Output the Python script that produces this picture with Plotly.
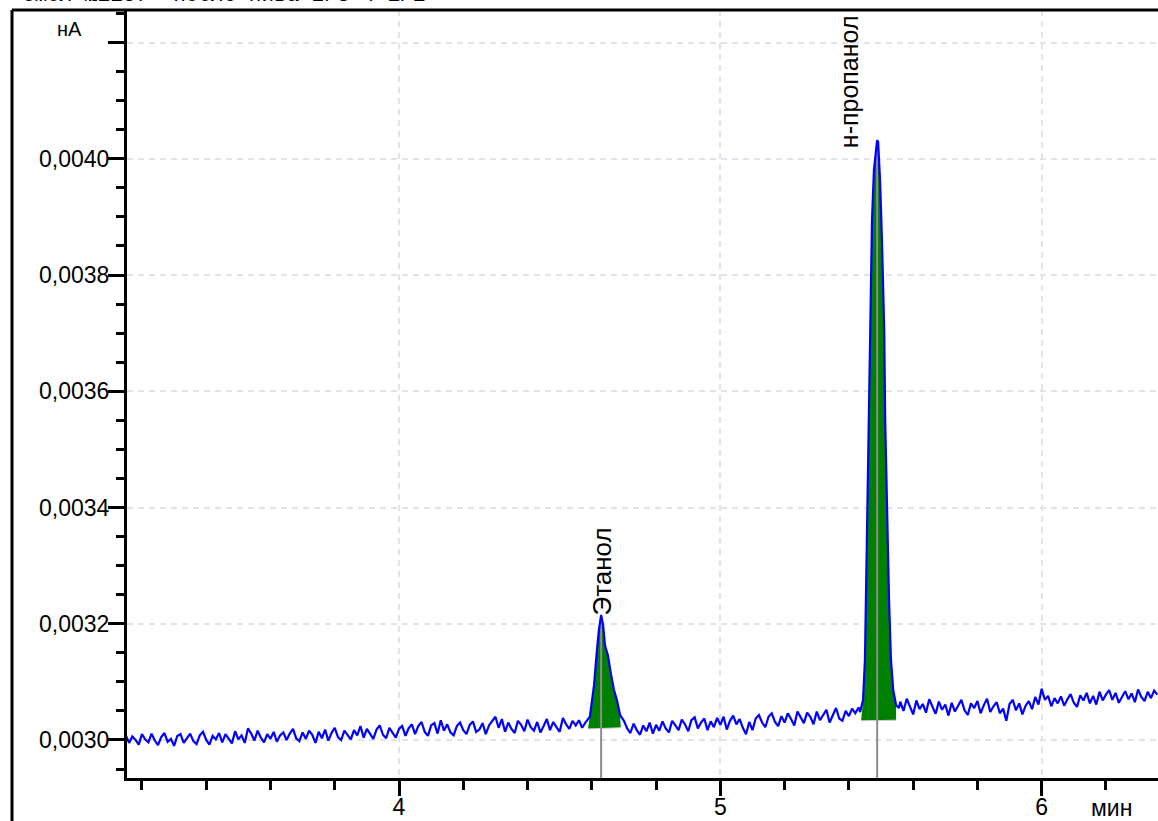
import numpy as np
import plotly.graph_objects as go

# ---------------- data (signal in fA, 1 fA = 1e-6 nA) ----------------
seg_a_start = 3.15
seg_a_fA = [
    3008, 2995, 3006, 3000, 2992, 3010, 3001, 2996, 3011, 2999,
    2991, 3005, 3012, 2997, 3002, 2990, 3007, 3010, 2995, 3004,
    3011, 2998, 2993, 3008, 3014, 3000, 2992, 3007, 3001, 3012,
    2996, 3010, 3003, 2994, 3015, 3001, 3008, 2995, 3020, 3011,
    2999, 3016, 3004, 2996, 3010, 3002, 3014, 2997, 3008, 3013,
    3000, 3011, 3019, 3003, 2998, 3013, 3002, 3016, 3009, 2995,
    3014, 3003, 3018, 2999, 3012, 3021, 3005, 3000, 3016, 3009,
    3001, 3017, 3008, 3024, 3004, 3019, 3010, 3002, 3018, 3025,
    3009, 3003, 3021, 3013, 3004, 3019, 3024, 3007, 3020, 3027,
    3010, 3024, 3031, 3014, 3007, 3025, 3029, 3011, 3034, 3016,
    3027, 3013, 3008, 3024, 3030, 3017, 3010, 3026, 3032, 3014,
    3018, 3029, 3010, 3025, 3033, 3040, 3021, 3036, 3014, 3030,
    3019, 3012, 3033, 3026, 3015, 3035, 3022, 3016, 3031, 3013,
    3024, 3036, 3017, 3031, 3022, 3014, 3038, 3027, 3019, 3033,
    3025, 3034, 3021, 3030,
]

ethanol_t = [4.594, 4.601, 4.607, 4.616, 4.622, 4.629, 4.635, 4.641, 4.650, 4.660, 4.669, 4.678, 4.688]
ethanol_fA = [3040, 3069, 3095, 3155, 3189, 3215, 3198, 3163, 3146, 3112, 3086, 3069, 3043]
ethanol_base_t = [4.588, 4.690]
ethanol_base_fA = [3019, 3021]
ethanol_rt = 4.629

seg_b_start = 4.70
seg_b_fA = [
    3033, 3020, 3012, 3028, 3017, 3009, 3025, 3015, 3030, 3011,
    3026, 3016, 3032, 3020, 3013, 3033, 3025, 3017, 3035, 3027,
    3015, 3034, 3039, 3020, 3030, 3037, 3017, 3032, 3022, 3038,
    3026, 3040, 3018, 3033, 3042, 3027, 3036, 3021, 3010, 3031,
    3017, 3037, 3043, 3030, 3022, 3040, 3046, 3031, 3024, 3041,
    3030, 3046, 3036, 3025, 3049, 3038, 3029, 3047, 3040, 3027,
    3049, 3034, 3042, 3052, 3030, 3044, 3055, 3037, 3033, 3050,
    3041, 3054, 3046, 3056,
]

propanol_t = [5.435, 5.444, 5.450, 5.453, 5.457, 5.460, 5.466, 5.472, 5.478, 5.485, 5.488,
              5.491, 5.497, 5.503, 5.510, 5.513, 5.519, 5.525, 5.531, 5.538, 5.547, 5.556]
propanol_fA = [3048, 3069, 3138, 3241, 3378, 3533, 3705, 3895, 3981, 4024, 4032,
               4029, 3963, 3860, 3705, 3550, 3378, 3241, 3138, 3086, 3060, 3055]
propanol_base_t = [5.438, 5.547]
propanol_base_fA = [3033, 3034]
propanol_rt = 5.488

seg_c_start = 5.56
seg_c_fA = [
    3066, 3050, 3071, 3056, 3044, 3068, 3053, 3062, 3047, 3070,
    3058, 3045, 3066, 3052, 3061, 3042, 3064, 3049, 3059, 3069,
    3051, 3043, 3063, 3055, 3067, 3046, 3060, 3071, 3048, 3058,
    3065, 3046, 3054, 3033, 3062, 3069, 3051, 3063, 3044, 3059,
    3067, 3053, 3074, 3061, 3088, 3069, 3076, 3058, 3072, 3063,
    3075, 3059, 3070, 3079, 3064, 3057, 3077, 3068, 3081, 3063,
    3076, 3061, 3083, 3068, 3078, 3086, 3069, 3081, 3064, 3075,
    3084, 3070, 3080, 3065, 3087, 3074, 3067, 3083, 3072, 3085,
    3078,
]

peak_names = ["Этанол", "н-пропанол"]
y_ticks = [0.0030, 0.0032, 0.0034, 0.0036, 0.0038, 0.0040, 0.0042]
y_ticktext = ["0,0030", "0,0032", "0,0034", "0,0036", "0,0038", "0,0040", ""]
x_ticks = [4, 5, 6]
x_ticktext = ["4", "5", "6"]
title_text = "Смол №1167  после пива 2/3 4 1/1"
y_unit = "нА"
x_unit = "мин"

X_RANGE = [3.1535, 6.362]
Y_RANGE = [0.0029346, 0.004256]


def to_nA(vals):
    return [v * 1e-6 for v in vals]


def seg_times(start, n):
    return list(np.round(start + 0.01 * np.arange(n), 3))


t_all = (seg_times(seg_a_start, len(seg_a_fA)) + ethanol_t +
         seg_times(seg_b_start, len(seg_b_fA)) + propanol_t +
         seg_times(seg_c_start, len(seg_c_fA)))
v_all = to_nA(seg_a_fA + ethanol_fA + seg_b_fA + propanol_fA + seg_c_fA)

fig = go.Figure()

GREEN = "#008000"
# peak areas
for pt, pv, bt, bv in [(ethanol_t, ethanol_fA, ethanol_base_t, ethanol_base_fA),
                       (propanol_t[1:], propanol_fA[1:-1], propanol_base_t, propanol_base_fA)]:
    px = [bt[0]] + list(pt[:len(pv)]) + [bt[1]]
    py = to_nA([bv[0]] + list(pv) + [bv[1]])
    fig.add_trace(go.Scatter(x=px, y=py, mode="lines", fill="toself", fillcolor=GREEN,
                             line=dict(width=0, color=GREEN), hoverinfo="skip", showlegend=False))
    fig.add_trace(go.Scatter(x=bt, y=to_nA(bv), mode="lines",
                             line=dict(width=1, color="#d0d0d0"), hoverinfo="skip", showlegend=False))

# retention markers
for rt, apex in [(ethanol_rt, max(ethanol_fA)), (propanol_rt, max(propanol_fA))]:
    fig.add_trace(go.Scatter(x=[rt, rt], y=[apex * 1e-6 - 0.000006, Y_RANGE[0] - 0.0001], mode="lines",
                             line=dict(width=2, color="#8c8c8c"), hoverinfo="skip", showlegend=False))

# signal
fig.add_trace(go.Scatter(x=t_all, y=v_all, mode="lines",
                         line=dict(width=2.2, color="#0000ff"), showlegend=False))

FONT = "Liberation Sans, Arial, sans-serif"
L, T, W, H = 127, 10, 1031, 768


def px_x(p):
    return (p - L) / W


def px_y(p):
    return (T + H - p) / H


# peak labels
fig.add_annotation(x=4.632, y=0.003290, text=peak_names[0], textangle=-90, showarrow=False,
                   xanchor="center", yanchor="middle",
                   font=dict(family=FONT, size=26, color="black"))
fig.add_annotation(x=5.4006, y=0.004132, text=peak_names[1], textangle=-90, showarrow=False,
                   xanchor="center", yanchor="middle",
                   font=dict(family=FONT, size=25, color="black"))

# units
fig.add_annotation(xref="paper", yref="paper", x=px_x(69), y=px_y(29), text=y_unit, showarrow=False,
                   xanchor="center", yanchor="middle",
                   font=dict(family=FONT, size=20, color="black"))
fig.add_annotation(xref="paper", yref="paper", x=px_x(1111), y=px_y(808), text=x_unit, showarrow=False,
                   xanchor="center", yanchor="middle",
                   font=dict(family=FONT, size=23, color="black"))
# clipped title at the very top
fig.add_annotation(xref="paper", yref="paper", x=px_x(20), y=px_y(9), xanchor="left", yanchor="bottom",
                   text=title_text, showarrow=False,
                   font=dict(family="Liberation Mono, Courier New, monospace", size=21, color="black"))

# frame lines
fig.add_shape(type="line", xref="paper", yref="paper", x0=px_x(12), x1=1, y0=1, y1=1,
              line=dict(color="black", width=3))
fig.add_shape(type="line", xref="paper", yref="paper", x0=px_x(12), x1=px_x(12), y0=1, y1=px_y(830),
              line=dict(color="black", width=3))

GRID = "#e2e2ea"
fig.update_layout(
    width=1158, height=821,
    margin=dict(l=L, r=0, t=T, b=821 - T - H, autoexpand=False),
    paper_bgcolor="white", plot_bgcolor="white",
    showlegend=False,
    xaxis=dict(range=X_RANGE, tickmode="array", tickvals=x_ticks, ticktext=x_ticktext,
               automargin=False, ticklabelstandoff=-9,
               ticks="outside", ticklen=15, tickwidth=3, tickcolor="black",
               showline=True, linecolor="black", linewidth=3,
               showgrid=True, gridcolor=GRID, gridwidth=2, griddash="6px,5px",
               zeroline=False,
               tickfont=dict(family=FONT, size=23, color="black"),
               minor=dict(tickmode="linear", tick0=0, dtick=0.2, ticks="outside", ticklen=9,
                          tickwidth=3, tickcolor="black", showgrid=False)),
    yaxis=dict(range=Y_RANGE, tickmode="array", tickvals=y_ticks, ticktext=y_ticktext,
               automargin=False, ticklabelstandoff=-6,
               ticks="outside", ticklen=16, tickwidth=3, tickcolor="black",
               showline=True, linecolor="black", linewidth=3,
               showgrid=True, gridcolor=GRID, gridwidth=2, griddash="6px,5px",
               zeroline=False,
               tickfont=dict(family=FONT, size=23, color="black"),
               minor=dict(tickmode="linear", tick0=0.003, dtick=0.00005, ticks="outside", ticklen=8,
                          tickwidth=3, tickcolor="black", showgrid=False)),
)

fig.write_html("out.html")
